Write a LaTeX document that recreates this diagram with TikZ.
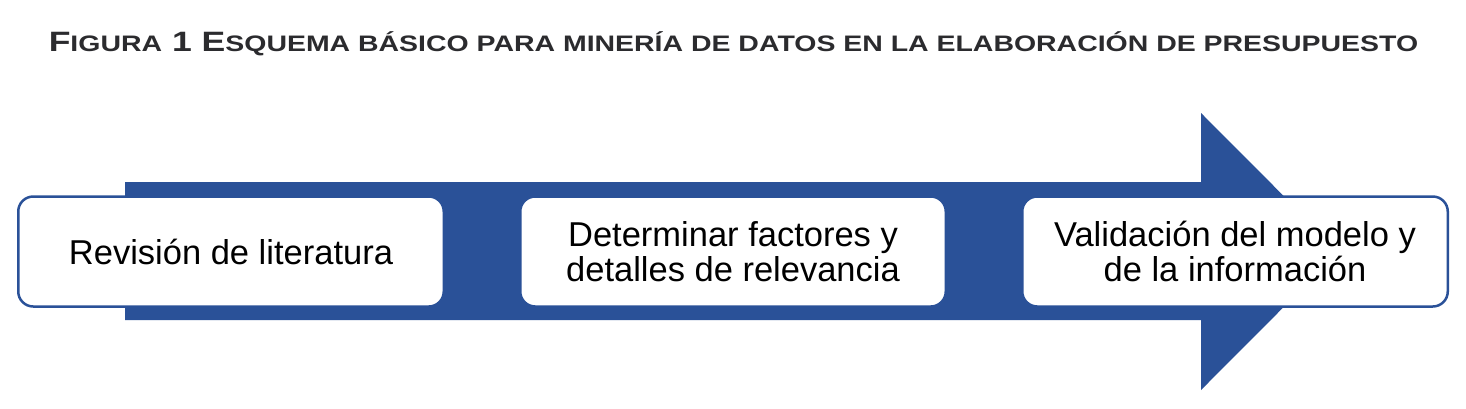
\documentclass[tikz,border=0pt]{standalone}
\usepackage{fontspec}
\setmainfont{Liberation Sans}
\usetikzlibrary{positioning}
\definecolor{arrowblue}{RGB}{42,81,152}
\definecolor{titlegray}{RGB}{43,43,46}
\newcommand{\tituloMay}[1]{{\fontsize{28}{30}\selectfont #1}}
\newcommand{\tituloMin}[1]{{\fontsize{22.4}{30}\selectfont #1}}

\begin{document}
\begin{tikzpicture}[x=1pt,y=-1pt,
  stage/.style={draw=arrowblue,line width=2.5pt,fill=white,rounded corners=15pt,
    minimum width=425.5pt,minimum height=110pt,align=center,inner sep=0pt,
    font=\fontsize{34.5}{35}\selectfont},
  node distance=74pt]
  \useasboundingbox (0,0) rectangle (1466,408);

  % Title
  \node[titlegray,font=\bfseries] (titulo) at (733.5,44)
    {\scalebox{1.27}[1]{\tituloMay{F}\tituloMin{IGURA}\tituloMay{ 1 E}\tituloMin{SQUEMA BÁSICO PARA MINERÍA DE DATOS EN LA ELABORACIÓN DE PRESUPUESTO}}};

  % Big arrow
  \fill[arrowblue] (125,182) -- (1201,182) -- (1201,113) -- (1339,251.5)
    -- (1201,390) -- (1201,320) -- (125,320) -- cycle;

  % Stages
  \node[stage] (revision) at (231,251.5) {Revisión de literatura};
  \node[stage,right=of revision] (factores) {Determinar factores y\\detalles de relevancia};
  \node[stage,right=of factores] (validacion) {Validación del modelo y\\de la información};

\end{tikzpicture}
\end{document}
